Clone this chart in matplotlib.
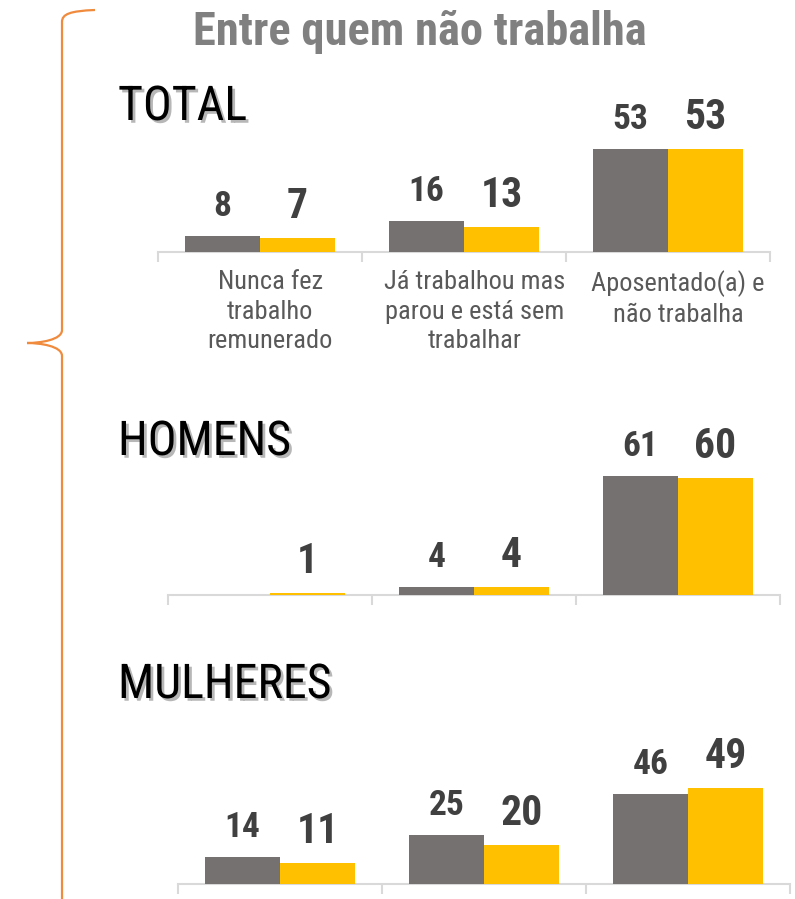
import matplotlib
matplotlib.use("Agg")
import matplotlib.pyplot as plt
import matplotlib.patheffects as pe
from matplotlib.path import Path
from matplotlib.patches import PathPatch

# ---------------- data ----------------
title = "Entre quem não trabalha"
panels = ["TOTAL", "HOMENS", "MULHERES"]
categories = ["Nunca fez\ntrabalho\nremunerado",
              "Já trabalhou mas\nparou e está sem\ntrabalhar",
              "Aposentado(a) e\nnão trabalha"]
total_gray = [8, 16, 53]
total_yellow = [7, 13, 53]
homens_gray = [0, 4, 61]
homens_yellow = [1, 4, 60]
mulheres_gray = [14, 25, 46]
mulheres_yellow = [11, 20, 49]

GRAY = "#767171"
YELLOW = "#FFC000"
LABEL = "#404040"
NARROW = ["Roboto Condensed", "DejaVu Sans"]

W, H = 795, 899
fig = plt.figure(figsize=(W / 100, H / 100), dpi=100)

def px_axes(x0, x1, ytop, ybase):
    return fig.add_axes([x0 / W, 1 - ybase / H, (x1 - x0) / W, (ybase - ytop) / H])

PXU = 1.95  # pixels per unit
specs = [
    (158, 770, 252, total_gray, total_yellow, 120, True),
    (168, 780, 595, homens_gray, homens_yellow, 455, False),
    (178, 790, 884, mulheres_gray, mulheres_yellow, 698, False),
]

bw = 75 / 204
for (x0, x1, base, g, y, title_base, show_cats), pname in zip(specs, panels):
    ytop = base - 150
    ax = px_axes(x0, x1, ytop, base)
    ymax = 150 / PXU
    ax.set_xlim(-0.5, 2.5)
    ax.set_ylim(0, ymax)
    xs = range(len(g))
    ax.bar([i - bw / 2 for i in xs], g, width=bw, color=GRAY, zorder=3)
    ax.bar([i + bw / 2 for i in xs], y, width=bw, color=YELLOW, zorder=3)
    for i in xs:
        if g[i] > 0:
            ax.annotate(str(g[i]), (i - bw / 2, g[i]), xytext=(0, 14.4), textcoords="offset points",
                        ha="center", va="baseline", fontsize=25.5, fontweight="bold",
                        color=LABEL, family=NARROW, annotation_clip=False)
        if y[i] > 0:
            ax.annotate(str(y[i]), (i + bw / 2, y[i]), xytext=(0, 14.4), textcoords="offset points",
                        ha="center", va="baseline", fontsize=30, fontweight="bold",
                        color=LABEL, family=NARROW, annotation_clip=False)
    for s in ["top", "right", "left"]:
        ax.spines[s].set_visible(False)
    ax.spines["bottom"].set_color("#d9d9d9")
    ax.spines["bottom"].set_linewidth(1.5)
    ax.spines["bottom"].set_zorder(1)
    ax.set_yticks([])
    ax.set_xticks([-0.5, 0.5, 1.5, 2.5])
    ax.set_xticklabels([])
    ax.tick_params(axis="x", direction="out", length=7, width=1.5, color="#d9d9d9")
    if show_cats:
        for i, c in enumerate(categories):
            ax.text(i + 0.05, -0.12, c, transform=ax.get_xaxis_transform(), ha="center", va="top",
                    fontsize=19, color="#595959", family=NARROW, linespacing=1.3)
    fig.text(118 / W, 1 - title_base / H, pname, ha="left", va="baseline", fontsize=34.5,
             color="black", family=NARROW,
             path_effects=[pe.withSimplePatchShadow(offset=(2, -2), shadow_rgbFace="#888888", alpha=0.6)])

fig.text(420 / W, 1 - 45 / H, title, ha="center", va="baseline", fontsize=33.5, fontweight="bold",
         color="#808080", family=NARROW)

# brace
bx = 62
verts = [(95, 10), (70, 11), (bx, 14), (bx, 22),
         (bx, 330),
         (bx, 340), (40, 343), (27, 343),
         (40, 343), (bx, 346), (bx, 356),
         (bx, 905)]
codes = [Path.MOVETO, Path.CURVE4, Path.CURVE4, Path.CURVE4,
         Path.LINETO,
         Path.CURVE4, Path.CURVE4, Path.CURVE4,
         Path.CURVE4, Path.CURVE4, Path.CURVE4,
         Path.LINETO]
verts_fig = [(vx / W, 1 - vy / H) for vx, vy in verts]
brace = PathPatch(Path(verts_fig, codes), transform=fig.transFigure, fill=False,
                  edgecolor="#F08A3C", linewidth=1.6)
fig.patches.append(brace)

fig.savefig("out.png", dpi=100)
